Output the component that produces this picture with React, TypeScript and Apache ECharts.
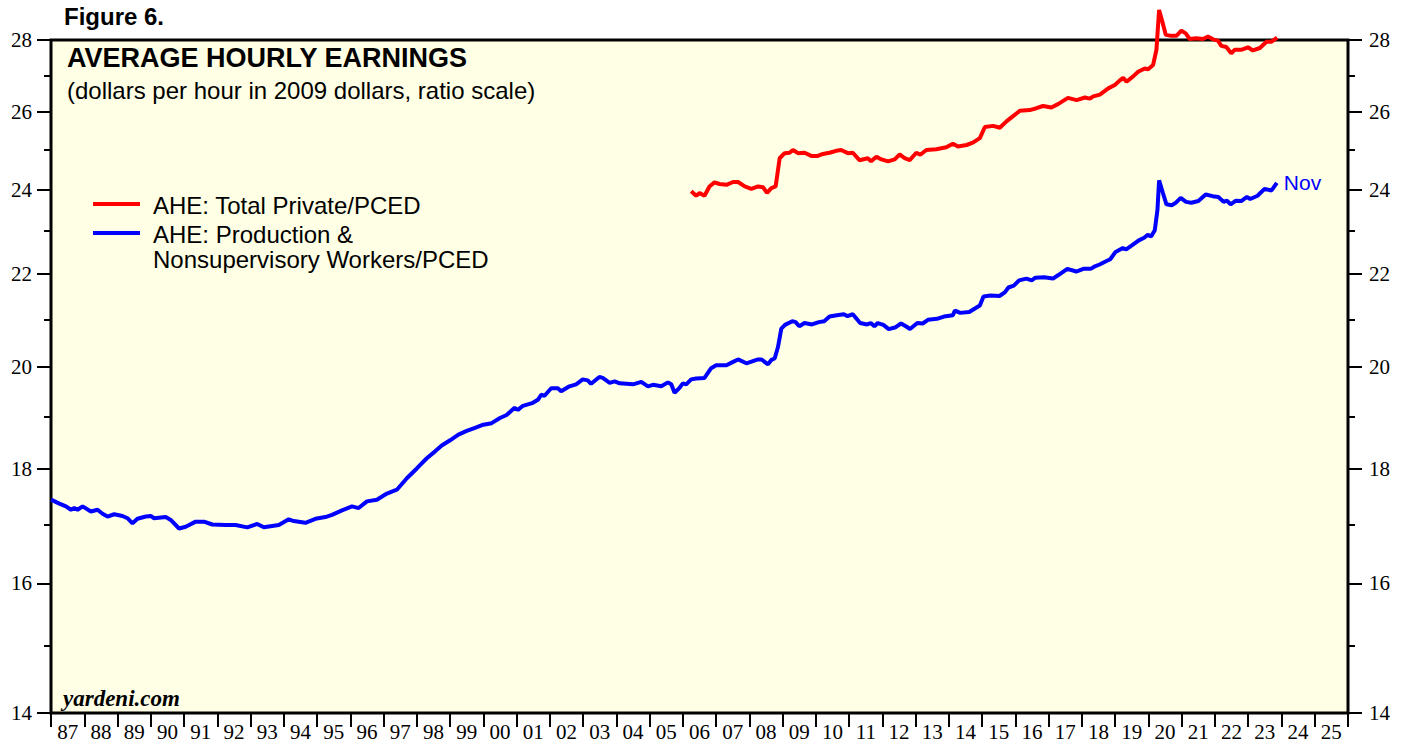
import React, { useEffect, useRef } from "react";
import * as echarts from "echarts";

// ---------- data ----------
const yearLabels = [
  "87", "88", "89", "90", "91", "92", "93", "94", "95", "96", "97", "98", "99",
  "00", "01", "02", "03", "04", "05", "06", "07", "08", "09", "10", "11", "12",
  "13", "14", "15", "16", "17", "18", "19", "20", "21", "22", "23", "24", "25",
];

const majorTicks = [14, 16, 18, 20, 22, 24, 26, 28];
const minorTicks = [15, 17, 19, 21, 23, 25, 27];

// AHE: Production & Nonsupervisory Workers / PCED (decimal year, dollars)
const blueDates = [
  1987.0, 1987.25, 1987.45, 1987.6, 1987.7, 1987.8, 1987.95, 1988.2, 1988.4, 1988.55,
  1988.7, 1988.9, 1989.15, 1989.3, 1989.45, 1989.6, 1989.85, 1990.0, 1990.1, 1990.45,
  1990.6, 1990.85, 1991.05, 1991.35, 1991.6, 1991.85, 1992.25, 1992.55, 1992.9, 1993.2,
  1993.4, 1993.85, 1994.15, 1994.3, 1994.65, 1994.95, 1995.25, 1995.45, 1995.75, 1996.05,
  1996.25, 1996.5, 1996.8, 1997.1, 1997.4, 1997.7, 1998.0, 1998.3, 1998.55, 1998.75,
  1999.0, 1999.25, 1999.5, 1999.75, 2000.0, 2000.25, 2000.5, 2000.7, 2000.94, 2001.04,
  2001.19, 2001.49, 2001.64, 2001.74, 2001.84, 2002.04, 2002.24, 2002.34, 2002.59, 2002.79,
  2002.99, 2003.14, 2003.24, 2003.49, 2003.59, 2003.8, 2003.95, 2004.1, 2004.5, 2004.75,
  2004.95, 2005.1, 2005.35, 2005.55, 2005.65, 2005.75, 2005.9, 2006.0, 2006.1, 2006.25,
  2006.4, 2006.65, 2006.85, 2007.0, 2007.31, 2007.51, 2007.66, 2007.91, 2008.26, 2008.36,
  2008.56, 2008.66, 2008.76, 2008.86, 2008.96, 2009.07, 2009.29, 2009.39, 2009.5, 2009.66,
  2009.88, 2010.09, 2010.25, 2010.41, 2010.63, 2010.84, 2010.95, 2011.11, 2011.33, 2011.54,
  2011.65, 2011.76, 2011.86, 2012.03, 2012.19, 2012.4, 2012.56, 2012.73, 2012.83, 2013.05,
  2013.21, 2013.37, 2013.64, 2013.85, 2014.12, 2014.18, 2014.34, 2014.61, 2014.77, 2014.93,
  2015.04, 2015.25, 2015.52, 2015.68, 2015.79, 2015.95, 2016.11, 2016.33, 2016.49, 2016.6,
  2016.86, 2017.13, 2017.29, 2017.56, 2017.83, 2018.04, 2018.26, 2018.37, 2018.53, 2018.74,
  2018.85, 2019.01, 2019.23, 2019.33, 2019.5, 2019.71, 2019.87, 2019.98, 2020.08, 2020.19,
  2020.27, 2020.32, 2020.43, 2020.54, 2020.7, 2020.81, 2020.97, 2021.13, 2021.29, 2021.5,
  2021.72, 2021.93, 2022.1, 2022.26, 2022.36, 2022.47, 2022.63, 2022.79, 2022.96, 2023.06,
  2023.28, 2023.49, 2023.7, 2023.86,
];
const blueValues = [
  17.44, 17.37, 17.32, 17.26, 17.29, 17.26, 17.32, 17.23, 17.26, 17.19,
  17.14, 17.18, 17.15, 17.11, 17.02, 17.1, 17.14, 17.15, 17.11, 17.13,
  17.08, 16.93, 16.96, 17.05, 17.05, 17.0, 16.99, 16.99, 16.95, 17.01,
  16.95, 16.99, 17.09, 17.06, 17.03, 17.1, 17.13, 17.17, 17.25, 17.32,
  17.29, 17.41, 17.44, 17.55, 17.62, 17.83, 18.01, 18.2, 18.33, 18.44,
  18.54, 18.65, 18.72, 18.78, 18.84, 18.87, 18.97, 19.03, 19.17, 19.13,
  19.21, 19.27, 19.33, 19.43, 19.41, 19.56, 19.56, 19.5, 19.6, 19.64,
  19.74, 19.72, 19.65, 19.79, 19.77, 19.67, 19.7, 19.66, 19.64, 19.69,
  19.6, 19.63, 19.6, 19.68, 19.64, 19.47, 19.57, 19.66, 19.64, 19.74,
  19.76, 19.77, 19.97, 20.03, 20.03, 20.1, 20.15, 20.07, 20.15, 20.15,
  20.05, 20.14, 20.17, 20.41, 20.8, 20.88, 20.96, 20.94, 20.85, 20.92,
  20.89, 20.94, 20.96, 21.06, 21.09, 21.11, 21.07, 21.11, 20.92, 20.89,
  20.92, 20.85, 20.92, 20.88, 20.79, 20.83, 20.91, 20.84, 20.79, 20.92,
  20.91, 20.99, 21.01, 21.06, 21.09, 21.19, 21.14, 21.16, 21.23, 21.3,
  21.5, 21.52, 21.51, 21.59, 21.7, 21.74, 21.86, 21.9, 21.86, 21.92,
  21.93, 21.9, 21.98, 22.12, 22.06, 22.12, 22.12, 22.17, 22.22, 22.3,
  22.34, 22.51, 22.6, 22.57, 22.66, 22.78, 22.84, 22.91, 22.87, 23.02,
  23.5, 24.23, 23.93, 23.64, 23.62, 23.67, 23.8, 23.7, 23.68, 23.72,
  23.88, 23.84, 23.82, 23.7, 23.73, 23.64, 23.73, 23.72, 23.82, 23.77,
  23.85, 24.02, 23.98, 24.17,
];

// AHE: Total Private / PCED
const redDates = [
  2006.25, 2006.4, 2006.5, 2006.65, 2006.8, 2006.95, 2007.1, 2007.31, 2007.51, 2007.66,
  2007.86, 2008.06, 2008.26, 2008.41, 2008.53, 2008.66, 2008.79, 2008.91, 2009.06, 2009.21,
  2009.31, 2009.46, 2009.66, 2009.86, 2010.06, 2010.21, 2010.41, 2010.61, 2010.76, 2010.96,
  2011.11, 2011.31, 2011.56, 2011.66, 2011.82, 2011.97, 2012.17, 2012.37, 2012.52, 2012.67,
  2012.82, 2013.02, 2013.14, 2013.32, 2013.62, 2013.92, 2014.12, 2014.27, 2014.53, 2014.72,
  2014.93, 2015.08, 2015.33, 2015.53, 2015.73, 2015.93, 2016.13, 2016.43, 2016.63, 2016.83,
  2017.08, 2017.28, 2017.58, 2017.84, 2018.09, 2018.24, 2018.34, 2018.54, 2018.79, 2018.99,
  2019.14, 2019.24, 2019.34, 2019.54, 2019.69, 2019.89, 2019.99, 2020.14, 2020.24, 2020.32,
  2020.43, 2020.52, 2020.69, 2020.84, 2020.99, 2021.12, 2021.24, 2021.44, 2021.64, 2021.79,
  2021.94, 2022.09, 2022.19, 2022.34, 2022.49, 2022.59, 2022.79, 2022.99, 2023.14, 2023.35,
  2023.55, 2023.7, 2023.87,
];
const redValues = [
  23.96, 23.85, 23.92, 23.85, 24.08, 24.18, 24.14, 24.12, 24.19, 24.19,
  24.08, 24.02, 24.08, 24.06, 23.92, 24.04, 24.08, 24.79, 24.92, 24.93,
  25.0, 24.92, 24.93, 24.85, 24.85, 24.9, 24.93, 24.98, 25.0, 24.92,
  24.93, 24.74, 24.79, 24.71, 24.83, 24.76, 24.71, 24.76, 24.89, 24.79,
  24.74, 24.93, 24.88, 25.0, 25.02, 25.07, 25.16, 25.09, 25.13, 25.19,
  25.31, 25.6, 25.63, 25.58, 25.75, 25.89, 26.03, 26.05, 26.1, 26.16,
  26.12, 26.21, 26.38, 26.32, 26.39, 26.36, 26.42, 26.47, 26.64, 26.73,
  26.86, 26.93, 26.82, 26.97, 27.1, 27.19, 27.17, 27.29, 27.72, 28.88,
  28.49, 28.15, 28.12, 28.12, 28.27, 28.19, 28.03, 28.05, 28.03, 28.1,
  28.02, 27.98, 27.83, 27.8, 27.62, 27.72, 27.72, 27.79, 27.7, 27.77,
  27.95, 27.95, 28.07,
];

const lastLabel = "Nov";

// ---------- styles ----------
const SERIF = "'Liberation Serif', 'Times New Roman', serif";
const SANS = "'Liberation Sans', Arial, Helvetica, sans-serif";
const BLUE = "#0000FF";
const RED = "#FF0000";

function makeYAxis(position: "left" | "right", major: boolean, margin: number) {
  const ticks = major ? majorTicks : minorTicks;
  return {
    type: "log",
    logBase: 10,
    min: 14,
    max: 28,
    position,
    axisLine: { show: false },
    splitLine: { show: false },
    axisTick: {
      show: true,
      inside: false,
      length: major ? 14 : 7,
      customValues: ticks,
      lineStyle: { color: "#000", width: 2 },
    },
    axisLabel: major
      ? {
          show: true,
          customValues: ticks,
          margin,
          fontFamily: SERIF,
          fontSize: 21,
          color: "#000",
          formatter: (v: number) => String(Math.round(v)),
        }
      : { show: false },
  };
}

export default function App() {
  const ref = useRef<HTMLDivElement>(null);

  useEffect(() => {
    if (!ref.current) return;
    const chart = echarts.init(ref.current, undefined, { renderer: "svg" });

    const blueData = blueDates.map((d, i) => [d, blueValues[i]]);
    const redData = redDates.map((d, i) => [d, redValues[i]]);

    const option: any = {
      animation: false,
      backgroundColor: "#FFFFFF",
      grid: {
        left: 51,
        right: 59,
        top: 40,
        bottom: 31,
        show: true,
        backgroundColor: "#FFFFE5",
        borderColor: "#000",
        borderWidth: 3,
        containLabel: false,
      },
      xAxis: [
        {
          type: "category",
          data: yearLabels,
          position: "bottom",
          boundaryGap: true,
          axisLine: { show: false },
          splitLine: { show: false },
          axisTick: {
            show: true,
            interval: 0,
            length: 14,
            lineStyle: { color: "#000", width: 2 },
          },
          axisLabel: {
            interval: 0,
            margin: 8,
            fontFamily: SERIF,
            fontSize: 21,
            color: "#000",
          },
        },
        {
          type: "value",
          min: 1987,
          max: 2026,
          show: false,
          position: "top",
        },
      ],
      yAxis: [
        makeYAxis("left", true, 19),
        makeYAxis("left", false, 19),
        makeYAxis("right", true, 21),
        makeYAxis("right", false, 21),
      ],
      series: [
        {
          name: "AHE: Total Private/PCED",
          type: "line",
          xAxisIndex: 1,
          yAxisIndex: 0,
          data: redData,
          showSymbol: false,
          clip: false,
          lineStyle: { color: RED, width: 4 },
          itemStyle: { color: RED },
          z: 3,
        },
        {
          name: "AHE: Production & Nonsupervisory Workers/PCED",
          type: "line",
          xAxisIndex: 1,
          yAxisIndex: 0,
          data: blueData,
          showSymbol: false,
          clip: false,
          lineStyle: { color: BLUE, width: 4 },
          itemStyle: { color: BLUE },
          endLabel: {
            show: true,
            formatter: lastLabel,
            color: BLUE,
            fontFamily: SANS,
            fontSize: 21,
            distance: 7,
          },
          z: 3,
        },
      ],
      graphic: [
        {
          type: "text",
          x: 64,
          y: 16,
          style: {
            text: "Figure 6.",
            fill: "#000",
            fontFamily: SANS,
            fontWeight: "bold",
            fontSize: 24,
            verticalAlign: "middle",
          },
        },
        {
          type: "text",
          x: 67,
          y: 58,
          z: 10,
          style: {
            text: "AVERAGE HOURLY EARNINGS",
            fill: "#000",
            fontFamily: SANS,
            fontWeight: "bold",
            fontSize: 27,
            verticalAlign: "middle",
          },
        },
        {
          type: "text",
          x: 67,
          y: 90,
          z: 10,
          style: {
            text: "(dollars per hour in 2009 dollars, ratio scale)",
            fill: "#000",
            fontFamily: SANS,
            fontSize: 24,
            verticalAlign: "middle",
          },
        },
        {
          type: "line",
          z: 10,
          shape: { x1: 93, y1: 204, x2: 140, y2: 204 },
          style: { stroke: RED, lineWidth: 4 },
        },
        {
          type: "text",
          x: 153,
          y: 205,
          z: 10,
          style: {
            text: "AHE: Total Private/PCED",
            fill: "#000",
            fontFamily: SANS,
            fontSize: 24,
            verticalAlign: "middle",
          },
        },
        {
          type: "line",
          z: 10,
          shape: { x1: 93, y1: 233, x2: 140, y2: 233 },
          style: { stroke: BLUE, lineWidth: 4 },
        },
        {
          type: "text",
          x: 153,
          y: 234,
          z: 10,
          style: {
            text: "AHE: Production &",
            fill: "#000",
            fontFamily: SANS,
            fontSize: 24,
            verticalAlign: "middle",
          },
        },
        {
          type: "text",
          x: 153,
          y: 259,
          z: 10,
          style: {
            text: "Nonsupervisory Workers/PCED",
            fill: "#000",
            fontFamily: SANS,
            fontSize: 24,
            verticalAlign: "middle",
          },
        },
        {
          type: "text",
          x: 63,
          y: 698,
          z: 10,
          style: {
            text: "yardeni.com",
            fill: "#000",
            fontFamily: SERIF,
            fontWeight: "bold",
            fontStyle: "italic",
            fontSize: 23,
            verticalAlign: "middle",
          },
        },
      ],
    };

    chart.setOption(option);
    return () => {
      chart.dispose();
    };
  }, []);

  return (
    <div
      ref={ref}
      style={{ position: "absolute", left: 0, top: 0, width: 1407, height: 744 }}
    />
  );
}
